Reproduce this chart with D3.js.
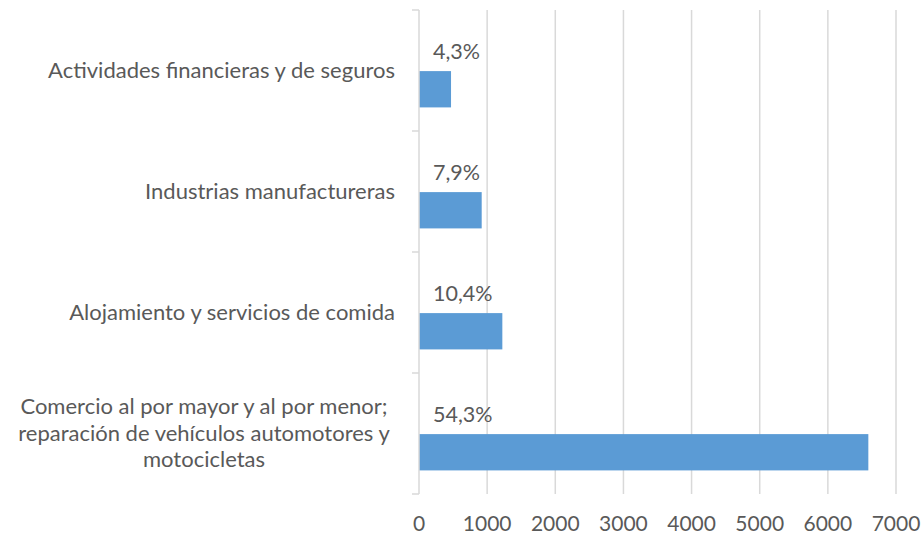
<!DOCTYPE html>
<html>
<head>
<meta charset="utf-8">
<script src="https://cdn.jsdelivr.net/npm/d3@7"></script>
<style>
  body { margin: 0; background: #fff; }
  text { font-family: Lato, "Open Sans", sans-serif; fill: #595959; }
</style>
</head>
<body>
<script>
// categories top to bottom, one entry per line of the label
var categories = [
  ["Actividades financieras y de seguros"],
  ["Industrias manufactureras"],
  ["Alojamiento y servicios de comida"],
  ["Comercio al por mayor y al por menor;", "reparación de vehículos automotores y", "motocicletas"]
];
var values = [470, 920, 1223, 6594];
var percentLabels = ["4,3%", "7,9%", "10,4%", "54,3%"];
var xTicks = [0, 1000, 2000, 3000, 4000, 5000, 6000, 7000];

var w = 922;
var h = 538;
var margin = {top: 10, right: 25, bottom: 44, left: 419};

var svg = d3.select("body")
  .append("svg")
  .attr("width", w)
  .attr("height", h);

var xScale = d3.scaleLinear()
  .domain([0, 7000])
  .range([margin.left, 896]);

var yScale = d3.scaleBand()
  .domain(d3.range(categories.length))
  .range([margin.top, h - margin.bottom]);

var bw = yScale.bandwidth();

/* ===== GRIDLINES ===== */

svg.append("g")
  .selectAll("line")
  .data(xTicks.slice(1))
  .enter()
  .append("line")
  .attr("x1", function (d) { return xScale(d); })
  .attr("x2", function (d) { return xScale(d); })
  .attr("y1", margin.top)
  .attr("y2", h - margin.bottom)
  .attr("stroke", "#d9d9d9")
  .attr("stroke-width", 1.5);

/* ===== BARS ===== */

svg.append("g")
  .selectAll("rect")
  .data(values)
  .enter()
  .append("rect")
  .attr("x", xScale(0))
  .attr("y", function (d, i) { return yScale(i) + bw * 0.505; })
  .attr("width", function (d) { return xScale(d) - xScale(0); })
  .attr("height", bw * 0.30)
  .attr("fill", "#5b9bd5");

/* ===== PERCENT LABELS ===== */

svg.append("g")
  .selectAll("text")
  .data(percentLabels)
  .enter()
  .append("text")
  .text(function (d) { return d; })
  .attr("x", xScale(0) + 14)
  .attr("y", function (d, i) { return yScale(i) + bw * 0.505 - 12; })
  .attr("font-size", "21.5px");

/* ===== Y AXIS ===== */

var yAxis = svg.append("g");

yAxis.append("line")
  .attr("x1", xScale(0))
  .attr("x2", xScale(0))
  .attr("y1", margin.top)
  .attr("y2", h - margin.bottom)
  .attr("stroke", "#d9d9d9")
  .attr("stroke-width", 1.5);

yAxis.selectAll("line.tick")
  .data(d3.range(categories.length + 1))
  .enter()
  .append("line")
  .attr("class", "tick")
  .attr("x1", xScale(0) - 7)
  .attr("x2", xScale(0))
  .attr("y1", function (d) { return margin.top + d * bw; })
  .attr("y2", function (d) { return margin.top + d * bw; })
  .attr("stroke", "#d9d9d9")
  .attr("stroke-width", 1.5);

var ctgry = svg.append("g")
  .selectAll("text")
  .data(categories)
  .enter()
  .append("text")
  .attr("font-size", "22px")
  .attr("text-anchor", "end");

ctgry.each(function (lines, i) {
  var t = d3.select(this);
  var lh = 26.5;
  var cy = yScale(i) + bw / 2;
  var y0 = cy - (lines.length - 1) * lh / 2 + 7;
  if (lines.length === 1) {
    t.append("tspan").attr("x", 395).attr("y", y0).text(lines[0]);
  } else {
    // multi-line labels are centered within their block
    t.attr("text-anchor", "middle");
    lines.forEach(function (l, j) {
      t.append("tspan").attr("x", 204).attr("y", y0 + j * lh).text(l);
    });
  }
});

/* ===== X AXIS LABELS ===== */

svg.append("g")
  .selectAll("text")
  .data(xTicks)
  .enter()
  .append("text")
  .text(function (d) { return d; })
  .attr("x", function (d) { return xScale(d); })
  .attr("y", 531)
  .attr("text-anchor", "middle")
  .attr("font-size", "21px");
</script>
</body>
</html>
